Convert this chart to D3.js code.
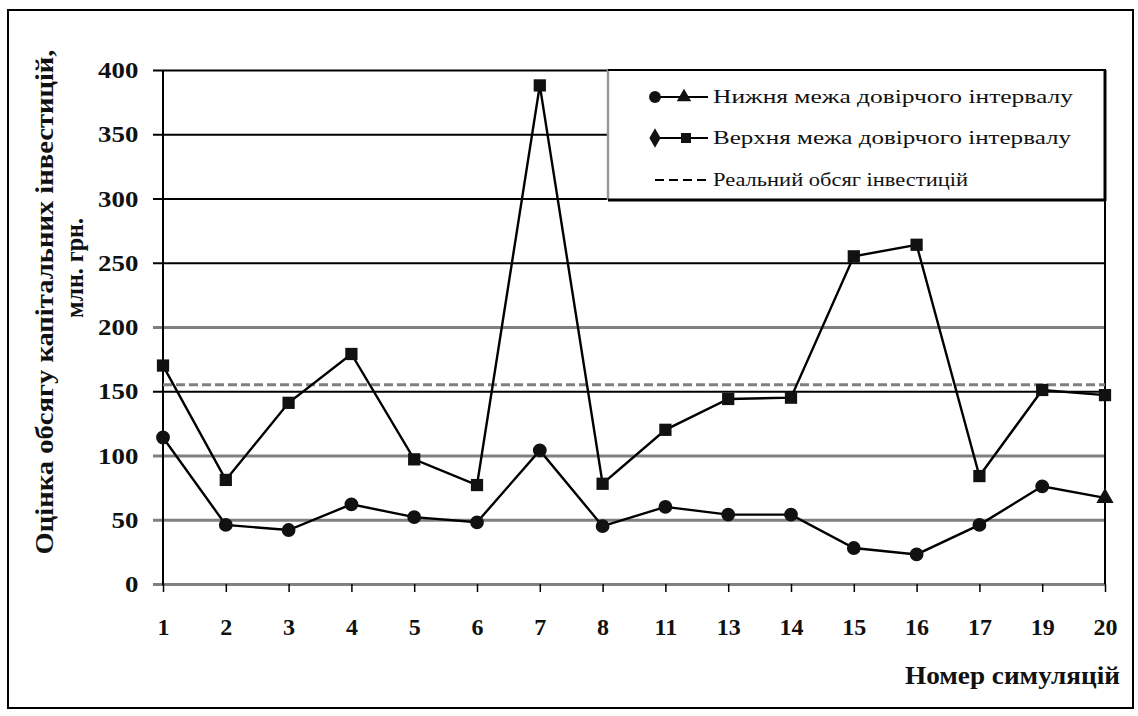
<!DOCTYPE html>
<html><head><meta charset="utf-8">
<script src="https://cdn.jsdelivr.net/npm/d3@7"></script>
<style>body{margin:0;background:#fff}svg{display:block}text{font-family:"Liberation Serif","Times New Roman",serif}</style>
</head><body>
<svg id="c" width="1138" height="716"></svg>
<script>
const categories = ["1","2","3","4","5","6","7","8","11","13","14","15","16","17","19","20"];
const upperValues = [170,81,141,179,97,77,388,78,120,144,145,255,264,84,151,147];
const lowerValues = [114,46,42,62,52,48,104,45,60,54,54,28,23,46,76,67];
const realValue = 155;
const yTicks = [0,50,100,150,200,250,300,350,400];
const legendLabels = ["Нижня межа довірчого інтервалу","Верхня межа довірчого інтервалу","Реальний обсяг інвестицій"];
const yTitle = ["Оцінка обсягу капітальних інвестицій,","млн. грн."];
const xTitle = "Номер симуляцій";

const svg = d3.select("#c");
const L = 163, R = 1105, T = 70, B = 584;
const x = d3.scalePoint().domain(categories).range([L, R]);
const y = d3.scaleLinear().domain([0, 400]).range([B, T]);

// outer frame
svg.append("rect").attr("x",8).attr("y",10).attr("width",1125).attr("height",698)
  .attr("fill","none").attr("stroke","#000").attr("stroke-width",2);

// gridlines + y tick labels
const yAxis = d3.axisLeft(y).tickValues(yTicks).tickSize(-(R - L)).tickPadding(22).tickFormat(d3.format("d"));
const gy = svg.append("g").attr("transform",`translate(${L},0)`).call(yAxis);
gy.select(".domain").remove();
gy.selectAll(".tick line").attr("stroke", d => d <= 100 || d === 200 ? "#808080" : "#000")
  .attr("stroke-width", d => d <= 100 || d === 200 ? 3 : 2).attr("x1", -10);
gy.selectAll(".tick text").attr("font-size",24).attr("font-weight","bold").attr("fill","#111")
  .attr("transform","scale(1.12,1)").attr("dx",0);

// right border & y axis line
svg.append("line").attr("x1",R).attr("x2",R).attr("y1",T).attr("y2",B).attr("stroke","#000").attr("stroke-width",2);
svg.append("line").attr("x1",L).attr("x2",L).attr("y1",T).attr("y2",B+1).attr("stroke","#000").attr("stroke-width",2);

// x axis
const xAxis = d3.axisBottom(x).tickSize(8).tickPadding(26);
const gx = svg.append("g").attr("transform",`translate(0,${B})`).call(xAxis);
gx.select(".domain").remove();
gx.selectAll(".tick line").attr("stroke","#000").attr("stroke-width",1.5);
gx.selectAll(".tick text").attr("font-size",24).attr("font-weight","bold").attr("fill","#111");

// real value dashed line
svg.append("line").attr("x1",L).attr("x2",R).attr("y1",y(realValue)).attr("y2",y(realValue))
  .attr("stroke","#808080").attr("stroke-width",3).attr("stroke-dasharray","9,4");

const line = d3.line().x((d,i)=>x(categories[i])).y(d=>y(d));
svg.append("path").datum(upperValues).attr("d",line).attr("fill","none").attr("stroke","#000").attr("stroke-width",2.4);
svg.append("path").datum(lowerValues).attr("d",line).attr("fill","none").attr("stroke","#000").attr("stroke-width",2.4);

const sym = (type,size)=>d3.symbol().type(type).size(size)();
svg.append("g").selectAll("path").data(upperValues).join("path")
  .attr("transform",(d,i)=>`translate(${x(categories[i])},${y(d)})`)
  .attr("d",sym(d3.symbolSquare,150)).attr("fill","#111");
svg.append("g").selectAll("path").data(lowerValues).join("path")
  .attr("transform",(d,i)=>`translate(${x(categories[i])},${y(d)})`)
  .attr("d",(d,i)=> i===lowerValues.length-1 ? sym(d3.symbolTriangle,130) : sym(d3.symbolCircle,150)).attr("fill","#111");

// legend
const lg = svg.append("g");
lg.append("rect").attr("x",608).attr("y",T).attr("width",R-608).attr("height",130).attr("fill","#fff").attr("stroke","none");
lg.append("line").attr("x1",608).attr("x2",608).attr("y1",T).attr("y2",200).attr("stroke","#999").attr("stroke-width",2.5);
lg.append("line").attr("x1",608).attr("x2",R+1).attr("y1",T).attr("y2",T).attr("stroke","#000").attr("stroke-width",2);
lg.append("line").attr("x1",R).attr("x2",R).attr("y1",T).attr("y2",201).attr("stroke","#000").attr("stroke-width",3);
lg.append("line").attr("x1",608).attr("x2",R+1).attr("y1",200).attr("y2",200).attr("stroke","#000").attr("stroke-width",3);
const rows = [97,138,180];
// row 1
lg.append("line").attr("x1",655).attr("x2",708).attr("y1",rows[0]).attr("y2",rows[0]).attr("stroke","#000").attr("stroke-width",2);
lg.append("path").attr("transform",`translate(655,${rows[0]})`).attr("d",sym(d3.symbolCircle,110)).attr("fill","#111");
lg.append("path").attr("transform",`translate(684,${rows[0]})`).attr("d",sym(d3.symbolTriangle,90)).attr("fill","#111");
// row 2
lg.append("line").attr("x1",655).attr("x2",708).attr("y1",rows[1]).attr("y2",rows[1]).attr("stroke","#000").attr("stroke-width",2);
lg.append("path").attr("transform",`translate(655,${rows[1]})`).attr("d",sym(d3.symbolDiamond,110)).attr("fill","#111");
lg.append("path").attr("transform",`translate(686,${rows[1]})`).attr("d",sym(d3.symbolSquare,100)).attr("fill","#111");
// row 3
lg.append("line").attr("x1",655).attr("x2",708).attr("y1",rows[2]).attr("y2",rows[2]).attr("stroke","#000").attr("stroke-width",2).attr("stroke-dasharray","9,5");
const legendLens = [360,358,255];
lg.selectAll("text").data(legendLabels).join("text")
  .attr("x",713).attr("y",(d,i)=>rows[i]+6).attr("font-size",19)
  .attr("textLength",(d,i)=>legendLens[i]).attr("lengthAdjust","spacingAndGlyphs")
  .attr("fill","#111").text(d=>d);

// titles
svg.append("text").attr("transform","translate(53,302) rotate(-90)").attr("text-anchor","middle")
  .attr("font-size",25).attr("font-weight","bold").attr("fill","#111")
  .attr("textLength",505).attr("lengthAdjust","spacingAndGlyphs").text(yTitle[0]);
svg.append("text").attr("transform","translate(83,268) rotate(-90)").attr("text-anchor","middle")
  .attr("font-size",25).attr("font-weight","bold").attr("fill","#111")
  .attr("textLength",100).attr("lengthAdjust","spacingAndGlyphs").text(yTitle[1]);
svg.append("text").attr("x",1120).attr("y",684).attr("text-anchor","end")
  .attr("font-size",26).attr("font-weight","bold").attr("fill","#111")
  .attr("textLength",215).attr("lengthAdjust","spacingAndGlyphs").text(xTitle);
</script>
</body></html>
